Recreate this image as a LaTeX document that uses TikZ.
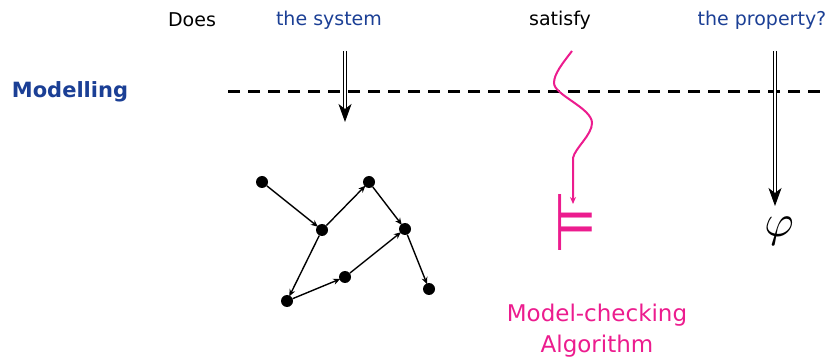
\documentclass[tikz,border=0pt]{standalone}
\usepackage{fontspec}
\setmainfont{DejaVu Sans}
\usetikzlibrary{arrows.meta,positioning,calc}
\definecolor{navy}{HTML}{1B3F95}
\definecolor{hotpink}{HTML}{EC1C8E}
\tikzset{
  word/.style={font=\fontsize{19}{21}\selectfont,inner sep=0pt},
  blueword/.style={word,text=navy},
  state/.style={circle,fill=black,inner sep=0pt,minimum size=12pt},
  edge/.style={-{Stealth[length=7pt,width=6pt]},line width=1.4pt,shorten >=-1pt},
  dblarrow/.style={double,double distance=2.6pt,line width=0.9pt,-{Stealth[length=18pt,width=13pt,inset=5pt]}},
  squiggle/.style={hotpink,line width=2pt,-{Stealth[length=7pt,width=6pt]}},
  pinkword/.style={font=\fontsize{23}{31}\selectfont,text=hotpink,align=center}
}
\begin{document}
\begin{tikzpicture}[x=1pt,y=-1pt]
    \useasboundingbox (0,0) rectangle (835,363);
    % question
    \node[word] (does) at (192,20) {Does};
    \node[blueword] (system) at (329,20) {the system};
    \node[word] (satisfy) at (560,20) {satisfy};
    \node[blueword] (property) at (762,20) {the property?};
    \node[font=\fontsize{21}{23}\selectfont\bfseries,text=navy] (modelling) at (70,92) {Modelling};
    \coordinate (dashL) at (228,92);
    \coordinate (dashR) at (822,92);
    \draw[line width=3pt,dash pattern=on 12pt off 8pt] (dashL) -- (dashR);
    % the model
    \node[state] (s1) at (262,182) {};
    \node[state] (s2) at (322,230) {};
    \node[state] (s3) at (369,182) {};
    \node[state] (s4) at (405,229) {};
    \node[state] (s5) at (345,277) {};
    \node[state] (s6) at (287,301) {};
    \node[state] (s7) at (429,289) {};
    \draw[edge] (s1) -- (s2);
    \draw[edge] (s2) -- (s3);
    \draw[edge] (s3) -- (s4);
    \draw[edge] (s2) -- (s6);
    \draw[edge] (s6) -- (s5);
    \draw[edge] (s5) -- (s4);
    \draw[edge] (s4) -- (s7);
    \coordinate (sysin) at (345,51);
    \coordinate (sysout) at (345,122);
    \draw[dblarrow] (sysin) -- (sysout);
    % the algorithm
    \node[text=hotpink,font=\fontsize{80}{84}\selectfont,xscale=0.6] (models) at (575,222) {⊨};
    \coordinate (satin) at (572,51);
    \coordinate (satout) at (573,204);
    \draw[squiggle] (satin) .. controls (562,64) and (554,74) .. (554,83)
      .. controls (554,95) and (592,108) .. (592,123)
      .. controls (592,135) and (575,148) .. (573,158) -- (satout);
    \node[pinkword] (algo) at (597,331) {Model-checking\\Algorithm};
    % the formula
    \node[scale=4.5] (phi) at (779,231) {$\varphi$};
    \coordinate (propin) at (775,51);
    \coordinate (propout) at (775,206);
    \draw[dblarrow] (propin) -- (propout);
  \end{tikzpicture}
\end{document}
